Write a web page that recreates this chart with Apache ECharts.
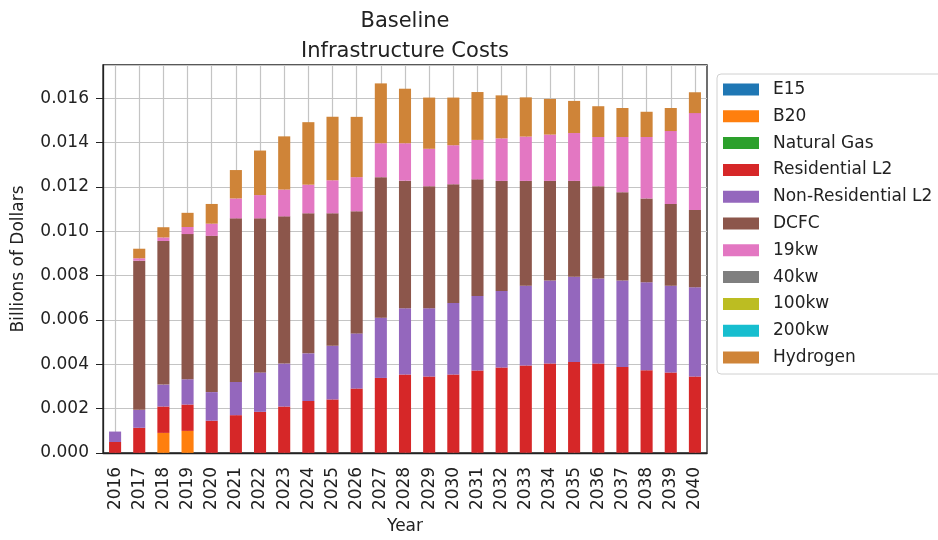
<!DOCTYPE html>
<html>
<head>
<meta charset="utf-8">
<script src="https://cdn.jsdelivr.net/npm/echarts@6/dist/echarts.min.js"></script>
<style>html,body{margin:0;padding:0;background:#fff}#c{width:938px;height:540px}</style>
</head>
<body>
<div id="c"></div>
<script>
const years = ['2016','2017','2018','2019','2020','2021','2022','2023','2024','2025','2026','2027','2028','2029','2030','2031','2032','2033','2034','2035','2036','2037','2038','2039','2040'];
const yTicks = [0, 0.002, 0.004, 0.006, 0.008, 0.010, 0.012, 0.014, 0.016];

const e15        = [0,0,0,0,0,0,0,0,0,0,0,0,0,0,0,0,0,0,0,0,0,0,0,0,0];
const b20        = [0,0,0.0009,0.00099,0,0,0,0,0,0,0,0,0,0,0,0,0,0,0,0,0,0,0,0,0];
const naturalGas = [0,0,0,0,0,0,0,0,0,0,0,0,0,0,0,0,0,0,0,0,0,0,0,0,0];
const residentialL2 = [0.00049,0.00113,0.00119,0.00119,0.00145,0.0017,0.00185,0.00209,0.00234,0.00241,0.0029,0.00338,0.00354,0.00345,0.00354,0.00372,0.00385,0.00394,0.00403,0.0041,0.00403,0.00387,0.00373,0.00363,0.00345];
const nonResidentialL2 = [0.00047,0.00081,0.00099,0.00114,0.00129,0.0015,0.00178,0.00194,0.00215,0.00242,0.00249,0.00272,0.00298,0.00307,0.00322,0.00336,0.00345,0.0036,0.00375,0.00384,0.00384,0.00391,0.00397,0.00391,0.00402];
const dcfc       = [0,0.00673,0.00648,0.00655,0.00705,0.00738,0.00695,0.00664,0.00632,0.00598,0.00551,0.00634,0.00576,0.00551,0.00536,0.00526,0.00497,0.00473,0.00449,0.00433,0.00416,0.00398,0.00378,0.00369,0.00349];
const kw19       = [0,0.00011,0.00016,0.00032,0.00055,0.0009,0.00105,0.00121,0.00129,0.00149,0.00154,0.00153,0.00169,0.00169,0.00176,0.00178,0.00192,0.002,0.00209,0.00216,0.00222,0.00249,0.00277,0.00329,0.00437];
const kw40       = [0,0,0,0,0,0,0,0,0,0,0,0,0,0,0,0,0,0,0,0,0,0,0,0,0];
const kw100      = [0,0,0,0,0,0,0,0,0,0,0,0,0,0,0,0,0,0,0,0,0,0,0,0,0];
const kw200      = [0,0,0,0,0,0,0,0,0,0,0,0,0,0,0,0,0,0,0,0,0,0,0,0,0];
const hydrogen   = [0,0.00043,0.00046,0.00064,0.00089,0.00128,0.00201,0.0024,0.00282,0.00286,0.00272,0.0027,0.00246,0.00231,0.00215,0.00216,0.00194,0.00177,0.00161,0.00145,0.00139,0.00131,0.00114,0.00104,0.00094];

const seriesNames = ['E15','B20','Natural Gas','Residential L2','Non-Residential L2','DCFC','19kw','40kw','100kw','200kw','Hydrogen'];
const seriesData = [e15,b20,naturalGas,residentialL2,nonResidentialL2,dcfc,kw19,kw40,kw100,kw200,hydrogen];
const colors = ['#1f77b4','#ff7f0e','#2ca02c','#d62728','#9467bd','#8c564b','#e377c2','#7f7f7f','#bcbd22','#17becf','#cf8438'];

// half-step positions (band edges and centres) for the vertical grid lines at category centres
const gridSlots = [''];
years.forEach(y => { gridSlots.push(y); gridSlots.push(''); });

const FONT = 'DejaVu Sans';
const chart = echarts.init(document.getElementById('c'));
chart.setOption({
  animation: false,
  color: colors,
  title: {
    text: 'Baseline\nInfrastructure Costs',
    left: 405, top: 7, padding: 0,
    textAlign: 'center',
    textStyle: {fontFamily: FONT, fontSize: 21, fontWeight: 'normal', color: '#222', lineHeight: 30}
  },
  legend: {
    orient: 'vertical',
    left: 717, top: 74,
    padding: [7, 30, 8, 6],
    itemWidth: 36, itemHeight: 12,
    itemGap: 9.8,
    icon: 'rect',
    borderColor: '#d0d0d0', borderWidth: 1, borderRadius: 4,
    textStyle: {fontFamily: FONT, fontSize: 17, color: '#222', lineHeight: 17, padding: [0,0,0,9]},
    data: seriesNames
  },
  grid: {left: 103, right: 231, top: 65, bottom: 83, show: true, borderColor: '#222', borderWidth: 1.3, backgroundColor: 'transparent'},
  xAxis: [{
    type: 'category',
    data: years,
    boundaryGap: true,
    name: 'Year', nameLocation: 'middle', nameGap: 64,
    nameTextStyle: {fontFamily: FONT, fontSize: 17, color: '#222'},
    axisLine: {lineStyle: {color: '#222', width: 1.3}},
    axisTick: {alignWithLabel: true, length: 7, lineStyle: {color: '#222'}},
    axisLabel: {rotate: 90, margin: 14, fontFamily: FONT, fontSize: 17, color: '#222', interval: 0},
    splitLine: {show: false}
  }, {
    type: 'category',
    data: gridSlots,
    boundaryGap: false,
    position: 'bottom',
    axisLine: {show: false}, axisTick: {show: false}, axisLabel: {show: false},
    splitLine: {show: true, interval: (i) => i % 2 === 1, lineStyle: {color: '#c4c4c4', width: 1.2}}
  }],
  yAxis: {
    type: 'value',
    min: 0, max: 0.0175, interval: 0.002,
    name: 'Billions of Dollars', nameLocation: 'middle', nameGap: 76,
    nameTextStyle: {fontFamily: FONT, fontSize: 17, color: '#222'},
    axisLine: {show: true, lineStyle: {color: '#222', width: 1.3}},
    axisTick: {show: true, length: 7, lineStyle: {color: '#222'}},
    axisLabel: {
      showMaxLabel: false, margin: 14, fontFamily: FONT, fontSize: 17, color: '#222',
      formatter: v => yTicks.some(t => Math.abs(t - v) < 1e-9) ? v.toFixed(3) : ''
    },
    splitLine: {show: true, lineStyle: {color: '#c4c4c4', width: 1.2}}
  },
  series: seriesNames.map((n, i) => ({
    name: n, type: 'bar', stack: 'total', barWidth: '50%',
    xAxisIndex: 0,
    data: seriesData[i],
    itemStyle: {color: colors[i]}
  }))
});
</script>
</body>
</html>
